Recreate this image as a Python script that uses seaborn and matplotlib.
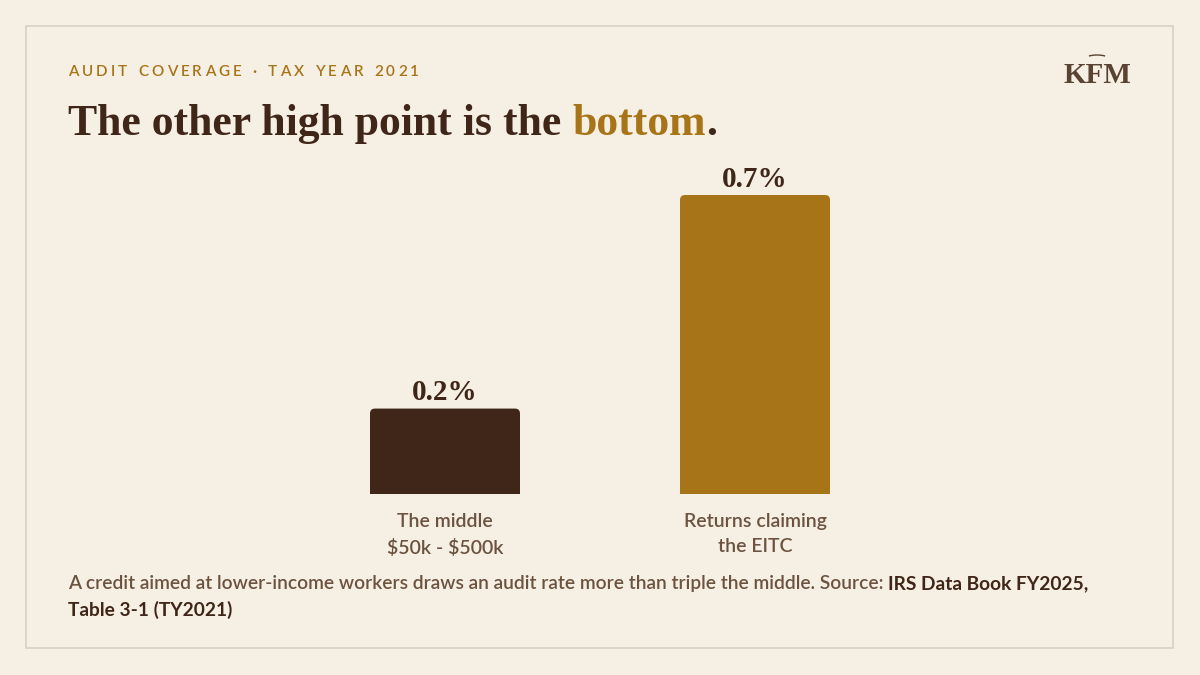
import numpy as np
import pandas as pd
import matplotlib.pyplot as plt
import seaborn as sns
from matplotlib.patches import FancyBboxPatch, Rectangle, Arc

# 数据
categories = ["The middle\n\\$50k - \\$500k", "Returns claiming\nthe EITC"]
audit_rates = [0.2, 0.7]
rate_labels = ["0.2%", "0.7%"]

BG = "#F5EFE4"
DARK = "#3F2618"
GOLD = "#A87418"
MUTED = "#6B5340"
bar_colors = [DARK, GOLD]

W, H = 1200, 675

sns.set_theme(style="white")
plt.rcParams['font.family'] = ['Lato', 'DejaVu Sans']

fig = plt.figure(figsize=(12, 6.75), dpi=100, facecolor=BG)
renderer = fig.canvas.get_renderer()

def fx(x):
    return x / W

def fy(y):
    return 1 - y / H

# 全图背景轴，用于放文字（1 单位 = 1 像素）
bg = fig.add_axes([0, 0, 1, 1], zorder=0)
bg.set_xlim(0, W)
bg.set_ylim(H, 0)
bg.axis("off")

def run_text(x, y, parts, **kw):
    # 按顺序排列不同颜色/粗细的文字片段
    for s, style in parts:
        t = bg.text(x, y, s, va="baseline", ha="left", **kw, **style)
        x += t.get_window_extent(renderer).width
    return x

# 外框
bg.add_patch(Rectangle((26, 26), 1147, 622, fill=False,
                       edgecolor="#D8D0C4", linewidth=1.2))

# 坐标轴：中心 445 / 755，基线 494
left, right = 68, 1132
ax = fig.add_axes([fx(left), fy(494), fx(right) - fx(left), (494 - 152.3) / H], zorder=1)
ax.patch.set_alpha(0)

df = pd.DataFrame({"group": categories, "rate": audit_rates})
sns.barplot(data=df, x="group", y="rate", hue="group", palette=bar_colors,
            width=150 / 310, legend=False, ax=ax, saturation=1)

unit = (right - left) / 310
ax.set_xlim(0.5 - unit / 2, 0.5 + unit / 2)
ax.set_ylim(0, 0.8)

# 圆角顶部
xpp = 1 / 310
ypp = 0.7 / 299
r = 5 * xpp
for p in list(ax.patches):
    x0, w, h = p.get_x(), p.get_width(), p.get_height()
    c = p.get_facecolor()
    p.set_visible(False)
    ax.add_patch(FancyBboxPatch((x0, 0), w, h,
                                boxstyle=f"round,pad=0,rounding_size={r}",
                                mutation_aspect=ypp / xpp,
                                facecolor=c, edgecolor="none"))
    ax.add_patch(Rectangle((x0, 0), w, h / 2, facecolor=c, edgecolor="none"))

for i, (v, lab) in enumerate(zip(audit_rates, rate_labels)):
    ax.annotate(lab, (i, v), xytext=(0, 1.5), textcoords="offset points",
                ha="center", va="bottom", fontsize=21, fontweight="bold",
                family=["Liberation Serif", "DejaVu Serif"], color=DARK)

for s in ax.spines.values():
    s.set_visible(False)
ax.set_yticks([])
ax.set_xlabel("")
ax.set_ylabel("")
ax.tick_params(axis="x", length=0, pad=14)
for t in ax.get_xticklabels():
    t.set_fontsize(14)
    t.set_color(MUTED)
    t.set_fontweight("semibold")
    t.set_linespacing(1.55)

# 小标题（字母间距）
x = 68
for ch in "AUDIT COVERAGE · TAX YEAR 2021":
    if ch == " ":
        x += 5
    else:
        t = bg.text(x, 76, ch, fontsize=11, fontweight="semibold",
                    color=GOLD, va="baseline", ha="left")
        x += t.get_window_extent(renderer).width
    x += 3.1

# 标题
title_kw = dict(fontsize=31.5, fontweight="bold",
                family=["Liberation Serif", "DejaVu Serif"])
run_text(68, 135, [("The other high point is the ", dict(color=DARK)),
                   ("bottom", dict(color=GOLD)),
                   (".", dict(color=DARK))], **title_kw)

# 标志
bg.text(1097, 83, "KFM", fontsize=21, color="#5A4332", ha="center",
        va="baseline", fontweight="bold",
        family=["Liberation Serif", "DejaVu Serif"])
bg.add_patch(Arc((1097, 59), 24, 8, theta1=200, theta2=340,
                 color="#5A4332", linewidth=1))

# 注释
cap_kw = dict(fontsize=13.8)
run_text(68, 589, [
    ("A credit aimed at lower-income workers draws an audit rate more than triple the middle. Source: ",
     dict(color=MUTED, fontweight="semibold")),
    ("IRS Data Book FY2025,", dict(color=DARK, fontweight="bold")),
], **cap_kw)
run_text(68, 616, [("Table 3-1 (TY2021)", dict(color=DARK, fontweight="bold"))], **cap_kw)

fig.savefig("out.png", dpi=100, facecolor=BG)
